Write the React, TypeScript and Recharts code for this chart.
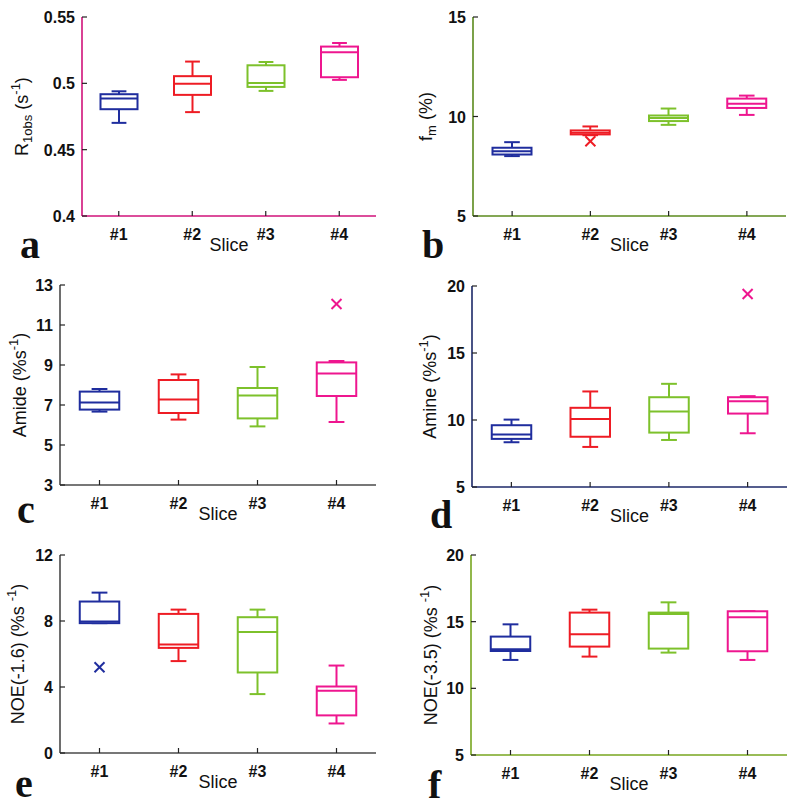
import { ComposedChart, Bar, Scatter, XAxis, YAxis } from "recharts";

const slices = ["#1", "#2", "#3", "#4"];
const sliceColors = ["#1f2d9e", "#ee1c24", "#7dc12b", "#ee168f"];

// (a) R1obs
const r1obsLow = [0.4702, 0.4783, 0.4943, 0.5026];
const r1obsQ1 = [0.4805, 0.4913, 0.4973, 0.5046];
const r1obsMed = [0.4885, 0.4996, 0.5003, 0.5234];
const r1obsQ3 = [0.4918, 0.5054, 0.5136, 0.5277];
const r1obsHigh = [0.494, 0.5164, 0.5161, 0.5304];
const r1obsOut = [null, null, null, null];

// (b) fm
const fmLow = [8.01, 9.06, 9.58, 10.08];
const fmQ1 = [8.09, 9.1, 9.77, 10.43];
const fmMed = [8.26, 9.18, 9.93, 10.64];
const fmQ3 = [8.43, 9.3, 10.05, 10.9];
const fmHigh = [8.71, 9.5, 10.4, 11.05];
const fmOut = [null, 8.76, null, null];

// (c) Amide
const amideLow = [6.67, 6.27, 5.93, 6.15];
const amideQ1 = [6.77, 6.6, 6.33, 7.45];
const amideMed = [7.13, 7.28, 7.47, 8.58];
const amideQ3 = [7.67, 8.25, 7.85, 9.13];
const amideHigh = [7.8, 8.53, 8.9, 9.2];
const amideOut = [null, null, null, 12.05];

// (d) Amine
const amineLow = [8.34, 7.99, 8.51, 9.01];
const amineQ1 = [8.59, 8.75, 9.06, 10.48];
const amineMed = [8.91, 10.07, 10.63, 11.4];
const amineQ3 = [9.61, 10.91, 11.7, 11.7];
const amineHigh = [10.03, 12.13, 12.7, 11.78];
const amineOut = [null, null, null, 19.4];

// (e) NOE(-1.6)
const noe16Low = [7.87, 5.57, 3.57, 1.79];
const noe16Q1 = [7.87, 6.37, 4.88, 2.28];
const noe16Med = [7.97, 6.57, 7.34, 3.77];
const noe16Q3 = [9.18, 8.43, 8.23, 4.03];
const noe16High = [9.72, 8.69, 8.69, 5.3];
const noe16Out = [5.2, null, null, null];

// (f) NOE(-3.5)
const noe35Low = [12.13, 12.38, 12.68, 12.13];
const noe35Q1 = [12.8, 13.13, 12.98, 12.78];
const noe35Med = [12.93, 14.05, 15.58, 15.33];
const noe35Q3 = [13.88, 15.68, 15.68, 15.78];
const noe35High = [14.8, 15.9, 16.45, 15.78];
const noe35Out = [null, null, null, null];

type Part = { t: string; s?: "sub" | "sup" };

type Row = {
  slice: string;
  color: string;
  range: [number, number];
  low: number;
  q1: number;
  med: number;
  q3: number;
  high: number;
  outlier: number | null;
};

type Panel = {
  id: string;
  left: number;
  top: number;
  plot: { left: number; right: number; top: number; bottom: number };
  domain: [number, number];
  ticks: number[];
  frame: string;
  yLabel: Part[];
  yLabelX: number;
  letter: { x: number; y: number };
  rows: Row[];
};

function buildRows(low: number[], q1: number[], med: number[], q3: number[], high: number[], out: (number | null)[]): Row[] {
  return slices.map((slice, i) => ({
    slice,
    color: sliceColors[i],
    range: [low[i], high[i]],
    low: low[i],
    q1: q1[i],
    med: med[i],
    q3: q3[i],
    high: high[i],
    outlier: out[i],
  }));
}

const W = 400;
const H = 268;
const AXIS_W = 40;
const AXIS_H = 40;
const TICK_LEN = 5;
const TICK_COLOR = "#222";
const MARGIN_X = 18;
const MARGIN_Y = 12;

const panels: Panel[] = [
  {
    id: "a", left: 0, top: 0,
    plot: { left: 82, right: 376, top: 17, bottom: 216 },
    domain: [0.4, 0.55], ticks: [0.4, 0.45, 0.5, 0.55], frame: "#d0127a",
    yLabel: [{ t: "R" }, { t: "1obs", s: "sub" }, { t: " (s" }, { t: "-1", s: "sup" }, { t: ")" }],
    yLabelX: 22, letter: { x: 20, y: 258 },
    rows: buildRows(r1obsLow, r1obsQ1, r1obsMed, r1obsQ3, r1obsHigh, r1obsOut),
  },
  {
    id: "b", left: 400, top: 0,
    plot: { left: 73, right: 386, top: 17, bottom: 216 },
    domain: [5, 15], ticks: [5, 10, 15], frame: "#5b8a1c",
    yLabel: [{ t: "f" }, { t: "m", s: "sub" }, { t: " (%)" }],
    yLabelX: 26, letter: { x: 22, y: 258 },
    rows: buildRows(fmLow, fmQ1, fmMed, fmQ3, fmHigh, fmOut),
  },
  {
    id: "c", left: 0, top: 270,
    plot: { left: 60, right: 376, top: 15, bottom: 215 },
    domain: [3, 13], ticks: [3, 5, 7, 9, 11, 13], frame: "#4a4a4a",
    yLabel: [{ t: "Amide (%s" }, { t: "-1", s: "sup" }, { t: ")" }],
    yLabelX: 20, letter: { x: 17, y: 253 },
    rows: buildRows(amideLow, amideQ1, amideMed, amideQ3, amideHigh, amideOut),
  },
  {
    id: "d", left: 400, top: 270,
    plot: { left: 72, right: 387, top: 16, bottom: 217 },
    domain: [5, 20], ticks: [5, 10, 15, 20], frame: "#1c2868",
    yLabel: [{ t: "Amine (%s" }, { t: "-1", s: "sup" }, { t: ")" }],
    yLabelX: 30, letter: { x: 30, y: 258 },
    rows: buildRows(amineLow, amineQ1, amineMed, amineQ3, amineHigh, amineOut),
  },
  {
    id: "e", left: 0, top: 540,
    plot: { left: 60, right: 376, top: 15, bottom: 213 },
    domain: [0, 12], ticks: [0, 4, 8, 12], frame: "#4a4a4a",
    yLabel: [{ t: "NOE(-1.6) (%s " }, { t: "-1", s: "sup" }, { t: ")" }],
    yLabelX: 18, letter: { x: 15, y: 257 },
    rows: buildRows(noe16Low, noe16Q1, noe16Med, noe16Q3, noe16High, noe16Out),
  },
  {
    id: "f", left: 400, top: 540,
    plot: { left: 71, right: 387, top: 15, bottom: 215 },
    domain: [5, 20], ticks: [5, 10, 15, 20], frame: "#77a61f",
    yLabel: [{ t: "NOE(-3.5) (%s " }, { t: "-1", s: "sup" }, { t: ")" }],
    yLabelX: 31, letter: { x: 28, y: 258 },
    rows: buildRows(noe35Low, noe35Q1, noe35Med, noe35Q3, noe35High, noe35Out),
  },
];

function BoxShape(props: any) {
  const { x, y, width, height, payload } = props;
  if (!payload || width == null) return <g />;
  const top = Math.min(y, y + height);
  const h = Math.abs(height);
  const span = payload.high - payload.low;
  const py = (v: number) => (span > 0 ? top + ((payload.high - v) / span) * h : top);
  const cx = x + width / 2;
  const bw = width * 0.5;
  const cw = width * 0.2;
  const c = payload.color;
  return (
    <g stroke={c} strokeWidth={2} fill="none">
      <line x1={cx} x2={cx} y1={py(payload.high)} y2={py(payload.q3)} />
      <line x1={cx} x2={cx} y1={py(payload.q1)} y2={py(payload.low)} />
      <line x1={cx - cw / 2} x2={cx + cw / 2} y1={py(payload.high)} y2={py(payload.high)} />
      <line x1={cx - cw / 2} x2={cx + cw / 2} y1={py(payload.low)} y2={py(payload.low)} />
      <rect x={cx - bw / 2} y={py(payload.q3)} width={bw} height={py(payload.q1) - py(payload.q3)} fill="#fff" />
      <line x1={cx - bw / 2} x2={cx + bw / 2} y1={py(payload.med)} y2={py(payload.med)} />
    </g>
  );
}

function CrossShape(props: any) {
  const { cx, cy, payload } = props;
  if (!payload || payload.outlier == null || cx == null || cy == null) return <g />;
  const r = 5;
  return (
    <g stroke={payload.color} strokeWidth={2}>
      <line x1={cx - r} y1={cy - r} x2={cx + r} y2={cy + r} />
      <line x1={cx - r} y1={cy + r} x2={cx + r} y2={cy - r} />
    </g>
  );
}

// tick renderers: an inward tick mark at the axis line, plus the label where one is wanted
function BottomTick({ x, y, payload }: any) {
  const axisY = y - MARGIN_X;
  return (
    <g>
      <line x1={x} x2={x} y1={axisY} y2={axisY - TICK_LEN} stroke={TICK_COLOR} strokeWidth={1.2} />
      <text x={x} y={y + 6} textAnchor="middle" fontSize={16} fontWeight={700} fill="#111">
        {payload.value}
      </text>
    </g>
  );
}

function TopTick({ x, y }: any) {
  const axisY = y + MARGIN_X;
  return <line x1={x} x2={x} y1={axisY} y2={axisY + TICK_LEN} stroke={TICK_COLOR} strokeWidth={1.2} />;
}

function LeftTick({ x, y, payload }: any) {
  const axisX = x + MARGIN_Y;
  return (
    <g>
      <line x1={axisX} x2={axisX + TICK_LEN} y1={y} y2={y} stroke={TICK_COLOR} strokeWidth={1.2} />
      <text x={x + 5} y={y + 6} textAnchor="end" fontSize={16} fontWeight={700} fill="#111">
        {payload.value}
      </text>
    </g>
  );
}

function RightTick({ x, y }: any) {
  const axisX = x - MARGIN_Y;
  return <line x1={axisX} x2={axisX - TICK_LEN} y1={y} y2={y} stroke={TICK_COLOR} strokeWidth={1.2} />;
}

function BoxPanel({ p }: { p: Panel }) {
  const margin = {
    top: p.plot.top,
    left: p.plot.left - AXIS_W,
    right: W - p.plot.right,
    bottom: H - p.plot.bottom - AXIS_H,
  };
  const frameLine = { stroke: p.frame, strokeWidth: 1.6 };
  return (
    <div style={{ position: "absolute", left: p.left, top: p.top, width: W, height: H }}>
      <ComposedChart width={W} height={H} data={p.rows} margin={margin} barCategoryGap="0%">
        <XAxis xAxisId="b" dataKey="slice" height={AXIS_H} interval={0} tickSize={0} tickMargin={MARGIN_X} tickLine={false} axisLine={frameLine} tick={<BottomTick />} />
        <XAxis xAxisId="t" orientation="top" dataKey="slice" height={0} interval={0} tickSize={0} tickMargin={MARGIN_X} tickLine={false} axisLine={frameLine} tick={<TopTick />} />
        <YAxis
          yAxisId="l"
          type="number"
          domain={p.domain}
          ticks={p.ticks}
          interval={0}
          allowDataOverflow
          width={AXIS_W}
          tickSize={0}
          tickMargin={MARGIN_Y}
          tickLine={false}
          axisLine={frameLine}
          tick={<LeftTick />}
        />
        <YAxis
          yAxisId="r"
          orientation="right"
          type="number"
          domain={p.domain}
          ticks={p.ticks}
          interval={0}
          allowDataOverflow
          width={0}
          tickSize={0}
          tickMargin={MARGIN_Y}
          tickLine={false}
          axisLine={frameLine}
          tick={<RightTick />}
        />
        <Bar xAxisId="b" yAxisId="l" dataKey="range" shape={(s: any) => <BoxShape {...s} />} isAnimationActive={false} />
        <Scatter xAxisId="b" yAxisId="l" dataKey="outlier" shape={(s: any) => <CrossShape {...s} />} isAnimationActive={false} />
      </ComposedChart>
    </div>
  );
}

function YLabelText({ p }: { p: Panel }) {
  const cy = p.top + (p.plot.top + p.plot.bottom) / 2;
  const x = p.left + p.yLabelX;
  let cur = 0;
  return (
    <text transform={`translate(${x},${cy}) rotate(-90)`} textAnchor="middle" dominantBaseline="central" fontSize={18} fill="#111">
      {p.yLabel.map((part, i) => {
        const target = part.s === "sub" ? 5 : part.s === "sup" ? -7 : 0;
        const dy = target - cur;
        cur = target;
        return (
          <tspan key={i} dy={dy} fontSize={part.s ? 13 : 18}>
            {part.t}
          </tspan>
        );
      })}
    </text>
  );
}

function Overlay() {
  return (
    <svg width={800} height={808} style={{ position: "absolute", left: 0, top: 0, pointerEvents: "none" }}>
      {panels.map((p) => (
        <g key={p.id}>
          <YLabelText p={p} />
          <text x={p.left + (p.plot.left + p.plot.right) / 2} y={p.top + p.plot.bottom + 35} textAnchor="middle" fontSize={18} fill="#111">
            Slice
          </text>
          <text x={p.left + p.letter.x} y={p.top + p.letter.y} fontSize={40} fontWeight={700} fill="#111" style={{ fontFamily: "'Liberation Serif', 'DejaVu Serif', serif" }}>
            {p.id}
          </text>
        </g>
      ))}
    </svg>
  );
}

export default function App() {
  return (
    <div style={{ position: "absolute", left: 0, top: 0, width: 800, height: 808, background: "#fff", fontFamily: "'Liberation Sans', Arial, sans-serif" }}>
      {panels.map((p) => (
        <BoxPanel key={p.id} p={p} />
      ))}
      <Overlay />
    </div>
  );
}
